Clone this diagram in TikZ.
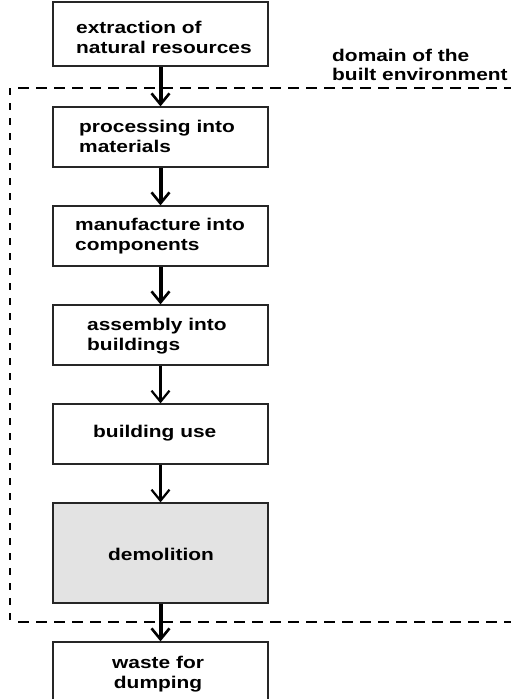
\documentclass[tikz,border=0pt]{standalone}
\usepackage{fontspec}
\setmainfont[FakeStretch=1.23]{Liberation Sans}
\usetikzlibrary{arrows.meta}
\begin{document}
\begin{tikzpicture}[x=1pt,y=-1pt,
  stage/.style={draw=black!85, line width=1.2pt, fill=white, minimum width=215pt,
    minimum height=60pt, inner sep=0pt},
  caption/.style={anchor=base west, inner sep=0pt, align=left,
    font=\fontsize{17}{20}\selectfont\bfseries},
  flowthick/.style={line width=4pt, -{Straight Barb[length=11pt,width=18pt,line width=2.6pt]}},
  flowthin/.style={line width=2.6pt, -{Straight Barb[length=11pt,width=18pt,line width=2.2pt]}},
  boundary/.style={line width=1.3pt, dash pattern=on 11pt off 7pt},
  boundaryv/.style={line width=1.8pt, dash pattern=on 7pt off 8pt},
  note/.style={font=\fontsize{17}{19}\selectfont\bfseries, align=left, inner sep=0pt}]
\useasboundingbox (0,0) rectangle (511,699);

% stages of the material life cycle
\node[stage, minimum height=64pt] (extract) at (160.5,34) {};
\node[stage] (process) at (160.5,137) {};
\node[stage] (manuf)   at (160.5,236) {};
\node[stage] (assem)   at (160.5,335) {};
\node[stage] (use)     at (160.5,434) {};
\node[stage, minimum height=100pt, fill=black!11] (demol) at (160.5,553) {};
\node[stage] (waste)   at (160.5,672) {};

% stage captions (anchored on the baseline of the last line)
\node[caption] (extract-t) at (76,53)  {extraction of\\natural resources};
\node[caption] (process-t) at (79,152) {processing into\\materials};
\node[caption] (manuf-t)   at (75,250) {manufacture into\\components};
\node[caption] (assem-t)   at (87,350) {assembly into\\buildings};
\node[caption] (use-t)     at (93,437) {building use};
\node[caption] (demol-t)   at (108,560) {demolition};
\node[caption, align=center] (waste-t) at (112,688) {waste for\\dumping};

% boundary of the built environment
\coordinate (tl) at (10,88);
\coordinate (bl) at (10,622);
\coordinate (tr) at (511,88);
\coordinate (br) at (511,622);
\draw[boundary] (18,88) -- (tr);
\draw[boundary] (18,622) -- (br);
\draw[boundaryv] (tl) -- (bl);
\node[note, anchor=base west] (domain) at (332,80) {domain of the\\built environment};

% flow between stages
\draw[flowthick] (extract.south) -- (process.north);
\draw[flowthick] (process.south) -- (manuf.north);
\draw[flowthick] (manuf.south) -- (assem.north);
\draw[flowthin]  (assem.south) -- (use.north);
\draw[flowthin]  (use.south) -- (demol.north);
\draw[flowthick] (demol.south) -- (waste.north);
\end{tikzpicture}
\end{document}
